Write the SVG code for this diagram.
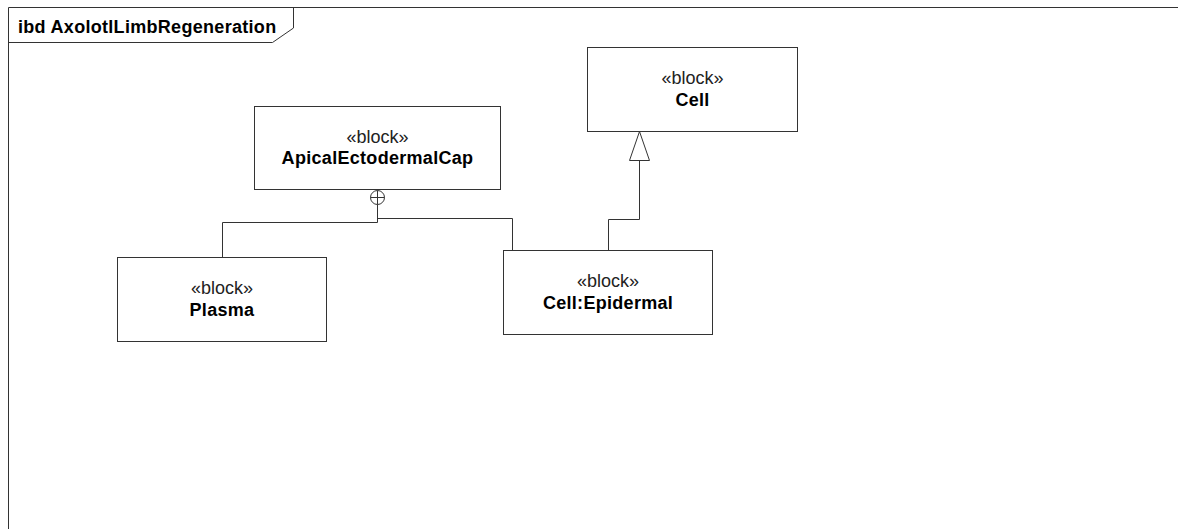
<svg xmlns="http://www.w3.org/2000/svg" width="1178" height="529" viewBox="0 0 1178 529">
<defs>
<style>
.frame{fill:none;stroke:#333;stroke-width:1}
.box{fill:#fff;stroke:#333;stroke-width:1}
.conn{fill:none;stroke:#333;stroke-width:1}
.st{font-family:"Liberation Sans",Arial,sans-serif;font-size:18px;fill:#222;text-anchor:middle}
.nm{font-family:"Liberation Sans",Arial,sans-serif;font-size:18px;font-weight:bold;fill:#000;text-anchor:middle;letter-spacing:0.3px}
.ttl{font-family:"Liberation Sans",Arial,sans-serif;font-size:18px;font-weight:bold;fill:#000;letter-spacing:0.3px}
</style>
</defs>
<rect width="1178" height="529" fill="#fff"/>
<g id="frame">
<path class="frame" d="M8.5,529 V7.5 H1178"/>
<path class="frame" d="M8.5,42.5 H272.5 L293.5,28 V7.5"/>
<text class="ttl" x="18" y="33">ibd AxolotlLimbRegeneration</text>
</g>
<g id="connectors">
<circle class="conn" cx="377.5" cy="197.5" r="7"/>
<path class="conn" d="M370.5,197.5 H384.5 M377.5,190.5 V204.5"/>
<path class="conn" d="M377.5,204.5 V222.5 H222.5 V257"/>
<path class="conn" d="M377.5,218.5 H512.5 V250"/>
<path class="conn" d="M608.5,250 V219.5 H639.5 V160.5"/>
<polygon points="639.5,131.5 629.5,160.5 649.5,160.5" fill="#fff" stroke="#333" stroke-width="1"/>
</g>
<g id="ApicalEctodermalCap">
<rect class="box" x="254.5" y="106.5" width="246" height="83"/>
<text class="st" x="377.5" y="143">«block»</text>
<text class="nm" x="377.5" y="164">ApicalEctodermalCap</text>
</g>
<g id="Cell">
<rect class="box" x="587.5" y="47.5" width="210" height="84"/>
<text class="st" x="692.5" y="84">«block»</text>
<text class="nm" x="692.5" y="106">Cell</text>
</g>
<g id="Plasma">
<rect class="box" x="117.5" y="257.5" width="209" height="84"/>
<text class="st" x="222" y="294">«block»</text>
<text class="nm" x="222" y="316">Plasma</text>
</g>
<g id="CellEpidermal">
<rect class="box" x="503.5" y="250.5" width="209" height="84"/>
<text class="st" x="608" y="287">«block»</text>
<text class="nm" x="608" y="309">Cell:Epidermal</text>
</g>
</svg>
